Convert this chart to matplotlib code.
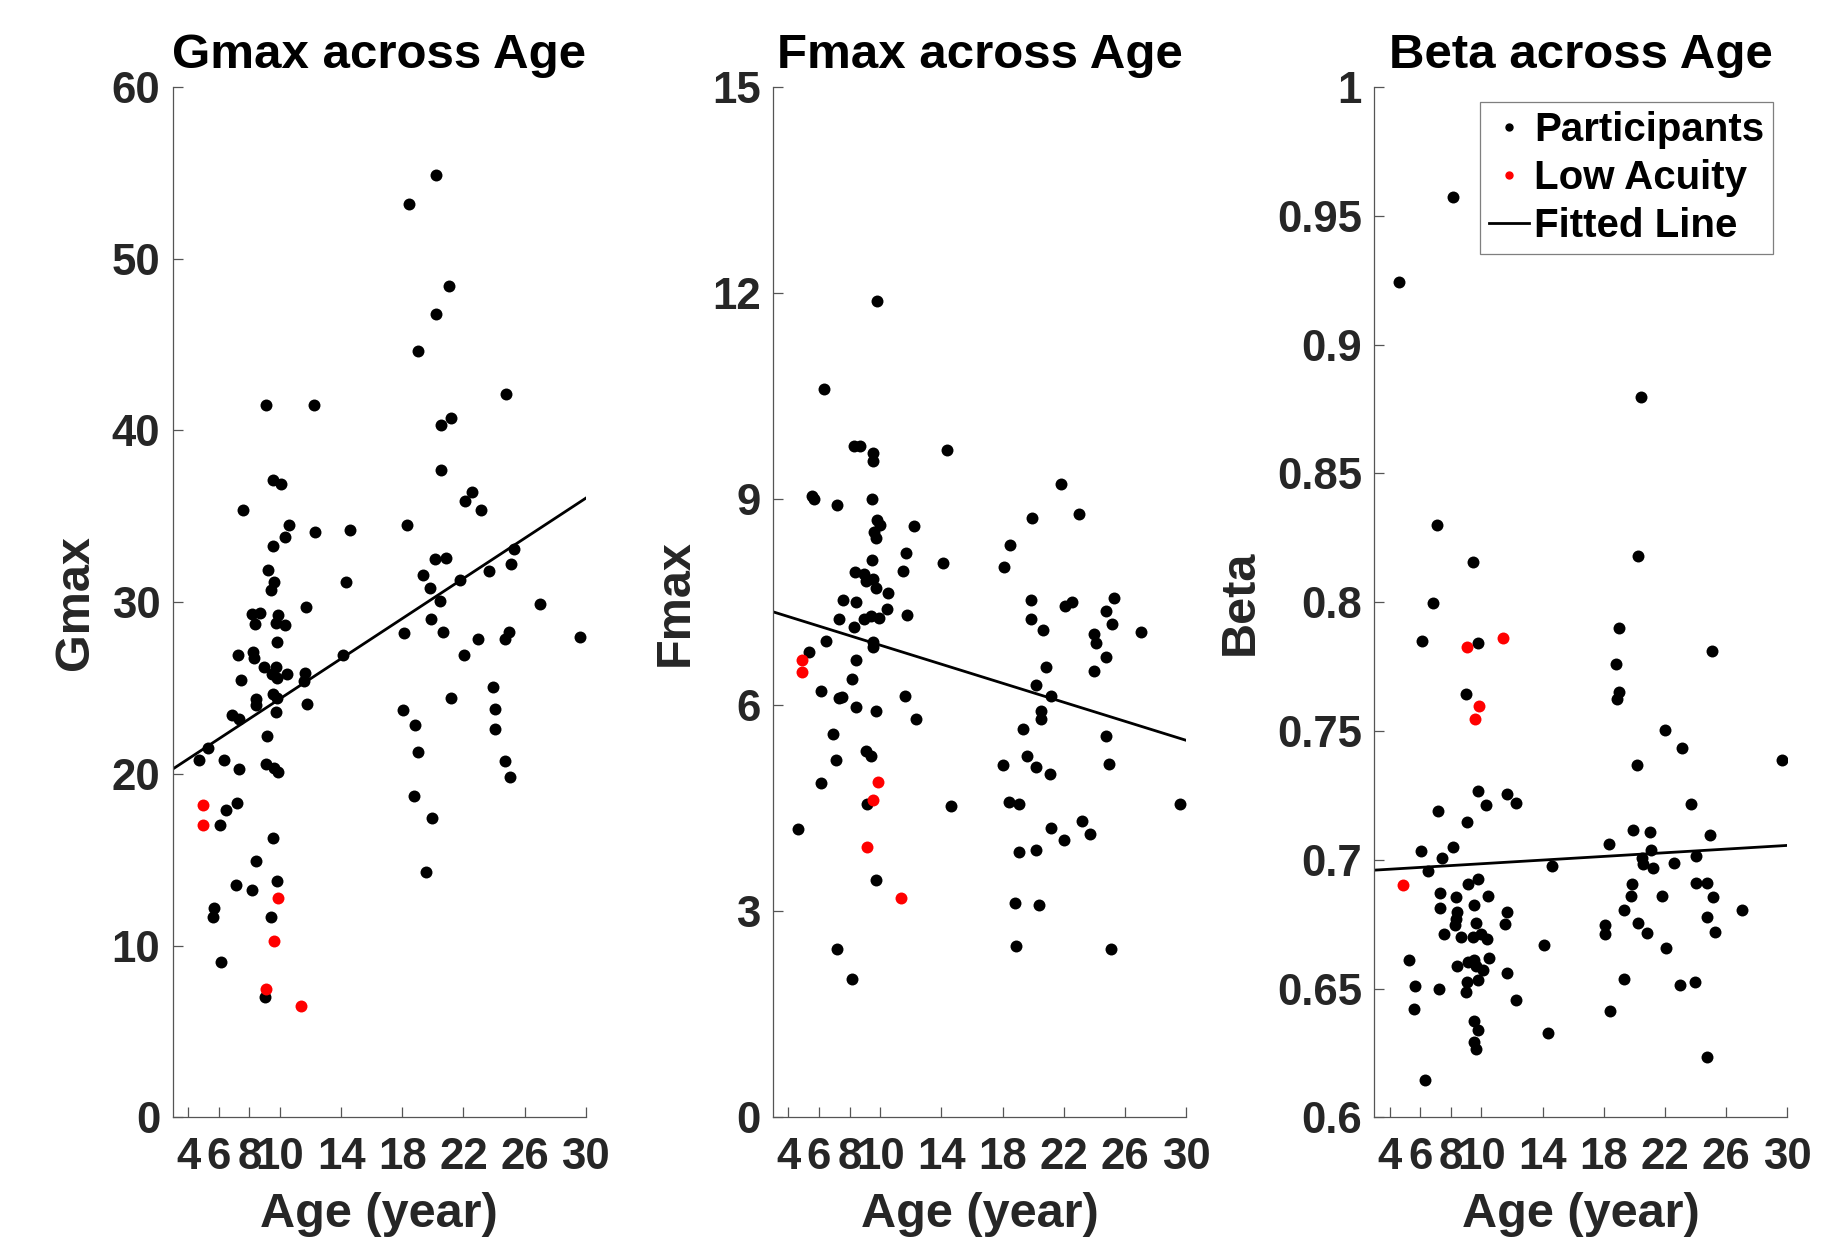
import matplotlib
matplotlib.use("Agg")
import matplotlib.pyplot as plt
from matplotlib.lines import Line2D
from matplotlib.ticker import FormatStrFormatter

plt.rcParams['font.family'] = ['Liberation Sans', 'DejaVu Sans']
plt.rcParams['font.weight'] = 'bold'

# ---- data ----
age_ticks = [4, 6, 8, 10, 14, 18, 22, 26, 30]

gmax_x = [20.2, 18.47, 21.07, 20.2, 19.04, 24.76, 9.1, 12.25, 21.18, 20.53, 20.56, 9.52, 10.04,
          22.57, 22.1, 7.59, 23.16, 18.34, 10.58, 12.28, 14.6, 10.35, 9.52, 25.28, 20.15, 20.84,
          25.1, 9.21, 19.35, 23.68, 21.8, 9.6, 14.3, 9.42, 19.8, 20.46, 27.03, 11.69,
          8.2, 8.67, 8.38, 9.9, 9.75, 10.32, 19.86, 18.08, 20.64, 29.6, 22.96, 24.7, 25.0, 9.78,
          7.25, 8.23, 8.31, 14.14, 22.06, 8.93, 9.73, 9.5, 9.8, 10.47, 11.66, 11.56, 7.46, 23.96,
          9.57, 9.78, 8.46, 8.44, 21.2, 11.74, 24.07, 6.89, 7.33, 9.75, 18.06, 18.83, 9.18, 24.07,
          5.32, 19.04, 4.7, 6.35, 9.08, 9.6, 9.88, 24.74, 7.3, 25.07, 7.17, 6.48, 6.09, 18.78,
          19.94, 9.57, 19.55, 8.44, 9.78, 7.15, 8.15, 5.7, 5.6, 9.44, 6.17, 9.0]
gmax_y = [54.9, 53.2, 48.4, 46.8, 44.65, 42.1, 41.5, 41.5, 40.7, 40.3, 37.7, 37.1, 36.9,
          36.4, 35.9, 35.35, 35.35, 34.5, 34.5, 34.1, 34.2, 33.8, 33.3, 33.1, 32.5, 32.6,
          32.2, 31.9, 31.6, 31.8, 31.3, 31.2, 31.2, 30.7, 30.8, 30.1, 29.9, 29.7,
          29.3, 29.4, 28.76, 29.28, 28.8, 28.7, 29.0, 28.2, 28.26, 27.97, 27.85, 27.85, 28.26, 27.7,
          26.9, 27.1, 26.75, 26.9, 26.9, 26.23, 26.25, 25.8, 25.6, 25.8, 25.87, 25.44, 25.5, 25.06,
          24.65, 24.44, 24.35, 24.0, 24.4, 24.1, 23.8, 23.46, 23.2, 23.63, 23.7, 22.84, 22.2, 22.6,
          21.5, 21.3, 20.8, 20.8, 20.6, 20.33, 20.1, 20.76, 20.3, 19.8, 18.3, 17.9, 17.0, 18.73,
          17.45, 16.28, 14.3, 14.96, 13.75, 13.56, 13.25, 12.2, 11.65, 11.67, 9.07, 7.0]
gmax_low_x = [4.95, 4.95, 9.88, 9.6, 9.1, 11.4]
gmax_low_y = [18.2, 17.04, 12.8, 10.26, 7.5, 6.5]
gmax_fit_x = [3, 30]
gmax_fit_y = [20.29, 36.06]

fmax_x = [9.77, 6.3, 8.27, 8.7, 9.54, 9.54, 14.34, 5.57, 5.67, 7.2, 9.46, 21.83, 9.82, 10.0, 9.6,
          9.7, 12.24, 19.91, 22.98, 18.46, 11.69, 14.1, 18.09, 9.46, 11.52, 8.35, 8.95, 9.1, 9.53,
          9.75, 10.52, 7.57, 8.42, 19.86, 22.08, 22.56, 25.3, 24.75,
          10.42, 7.3, 8.27, 8.95, 9.37, 9.9, 11.72, 19.83, 25.18, 27.05, 20.63, 6.45, 5.32, 9.5,
          9.54, 24.0, 24.08, 8.4, 24.73, 20.83, 23.98, 8.15, 6.1, 20.16, 7.3, 7.5, 11.64, 21.18,
          8.4, 9.72, 20.51, 20.51, 12.32, 19.33, 24.73, 6.9, 7.12, 9.04, 9.39, 18.04, 19.61, 20.16,
          21.11, 24.98, 6.1, 9.12, 14.64, 18.39, 19.06, 29.62, 4.65, 21.18, 23.16, 23.73, 22.0,
          19.06, 20.21, 9.74, 18.79, 20.41, 7.15, 18.89, 25.08, 8.17]
fmax_y = [11.88, 10.6, 9.77, 9.78, 9.67, 9.55, 9.72, 9.04, 9.0, 8.91, 9.0, 9.22, 8.7, 8.63, 8.52,
          8.44, 8.61, 8.72, 8.78, 8.34, 8.22, 8.07, 8.02, 8.12, 7.95, 7.94, 7.91, 7.81, 7.84,
          7.71, 7.64, 7.53, 7.51, 7.53, 7.44, 7.5, 7.56, 7.37,
          7.4, 7.26, 7.14, 7.26, 7.3, 7.27, 7.31, 7.25, 7.18, 7.06, 7.1, 6.93, 6.78, 6.92,
          6.85, 7.04, 6.9, 6.66, 6.7, 6.55, 6.5, 6.38, 6.21, 6.29, 6.1, 6.12, 6.14, 6.13,
          5.97, 5.92, 5.91, 5.8, 5.8, 5.65, 5.56, 5.58, 5.2, 5.33, 5.26, 5.13, 5.26, 5.1,
          5.0, 5.14, 4.87, 4.56, 4.53, 4.59, 4.56, 4.57, 4.2, 4.22, 4.31, 4.13, 4.04,
          3.86, 3.9, 3.46, 3.12, 3.09, 2.45, 2.5, 2.45, 2.01]
fmax_low_x = [4.9, 4.9, 9.87, 9.52, 9.12, 11.34]
fmax_low_y = [6.66, 6.49, 4.88, 4.62, 3.93, 3.19]
fmax_fit_x = [3, 30]
fmax_fit_y = [7.36, 5.49]

beta_x = [8.16, 4.64, 20.42, 7.12, 9.44, 20.22, 6.84, 6.09, 9.75, 19.02, 25.05, 18.79, 19.02, 18.84,
          8.96, 22.03, 23.13, 20.14, 29.62, 9.75, 11.66, 10.28, 12.28, 23.69, 7.14, 9.06, 19.89,
          21.04, 24.97, 6.04, 8.14, 7.4, 18.36, 21.11, 20.47, 20.53, 24.05, 22.57, 21.22, 14.63,
          6.48, 9.11, 9.75, 19.86, 24.05, 24.72, 7.32, 8.34, 10.44, 19.81, 21.8, 25.12, 9.54, 7.3,
          8.39, 11.69, 19.33, 27.04, 8.32, 8.27, 9.62, 11.56, 18.07, 18.07, 20.22, 24.72, 7.55,
          8.65, 9.44, 9.95, 10.36, 20.83, 25.28, 14.11, 22.08, 5.28, 10.51, 9.54, 9.67, 9.13,
          10.08, 9.77, 8.42, 11.69, 9.03, 8.96, 19.29, 22.98, 23.97, 5.66, 7.22, 12.25, 5.56,
          18.43, 9.54, 9.8, 14.32, 9.49, 9.62, 24.74, 6.3]
beta_y = [0.9573, 0.9242, 0.8795, 0.83, 0.8158, 0.8181, 0.7997, 0.7849, 0.7841, 0.7901, 0.781,
          0.7761, 0.7653, 0.7626, 0.7643, 0.7505, 0.7435, 0.7368, 0.7387, 0.7266, 0.7255, 0.7213,
          0.7221, 0.7217, 0.719, 0.7146, 0.7115, 0.7108, 0.7097, 0.7035, 0.7051, 0.7008, 0.7062,
          0.7037, 0.7006, 0.6984, 0.7014, 0.6986, 0.6967, 0.6976, 0.6955, 0.6906, 0.6927, 0.6908,
          0.6911, 0.6912, 0.6873, 0.6857, 0.686, 0.686, 0.6861, 0.6855, 0.6826, 0.6814, 0.6799,
          0.6798, 0.6807, 0.6807, 0.6771, 0.6747, 0.6756, 0.675, 0.6747, 0.6712, 0.6756, 0.6777,
          0.6712, 0.6699, 0.6702, 0.6712, 0.6693, 0.6715, 0.672, 0.667, 0.6659, 0.661, 0.6619,
          0.661, 0.6588, 0.6604, 0.6572, 0.6532, 0.6588, 0.656, 0.6527, 0.6487, 0.6537, 0.6516,
          0.6524, 0.651, 0.65, 0.6457, 0.6422, 0.6414, 0.6376, 0.6341, 0.6326, 0.6293, 0.6264,
          0.6234, 0.6145]
beta_low_x = [4.89, 9.06, 11.38, 9.85, 9.57]
beta_low_y = [0.6904, 0.7825, 0.7863, 0.7599, 0.7546]
beta_fit_x = [3, 30]
beta_fit_y = [0.696, 0.7056]

TICK_COLOR = '#262626'


def draw_panel(ax, x, y, low_x, low_y, fit_x, fit_y, name, ylim, yticks, fmt):
    ax.plot(x, y, 'o', color='black', markersize=8.6, markeredgewidth=0, linestyle='none')
    ax.plot(low_x, low_y, 'o', color='red', markersize=8.6, markeredgewidth=0, linestyle='none')
    ax.plot(fit_x, fit_y, '-', color='black', linewidth=2.0)

    ax.set_xlim(3, 30)
    ax.set_ylim(*ylim)
    ax.set_xticks(age_ticks)
    ax.set_yticks(yticks)
    ax.yaxis.set_major_formatter(FormatStrFormatter(fmt))

    for side in ['top', 'right']:
        ax.spines[side].set_visible(False)
    for side in ['left', 'bottom']:
        ax.spines[side].set_color('#555555')
        ax.spines[side].set_linewidth(0.9)

    ax.tick_params(axis='both', direction='in', length=7, width=0.9, color='#555555',
                   labelsize=31.5, labelcolor=TICK_COLOR)
    ax.tick_params(axis='y', pad=9)
    ax.tick_params(axis='x', pad=14)
    for lab in ax.get_xticklabels() + ax.get_yticklabels():
        lab.set_fontweight('bold')

    ax.set_title(f'{name} across Age', fontsize=35.5, fontweight='bold', color='black', pad=14)
    ax.set_xlabel('Age (year)', fontsize=35, fontweight='bold', color=TICK_COLOR, labelpad=10)
    ax.set_ylabel(name, fontsize=35, fontweight='bold', color=TICK_COLOR, labelpad=10)


fig = plt.figure(figsize=(18.33, 12.43), dpi=100)
ax1 = fig.add_axes([0.0943, 0.101, 0.2253, 0.829])
ax2 = fig.add_axes([0.4218, 0.101, 0.2253, 0.829])
ax3 = fig.add_axes([0.7498, 0.101, 0.2253, 0.829])

draw_panel(ax1, gmax_x, gmax_y, gmax_low_x, gmax_low_y, gmax_fit_x, gmax_fit_y,
           'Gmax', (0, 60), [0, 10, 20, 30, 40, 50, 60], '%g')
draw_panel(ax2, fmax_x, fmax_y, fmax_low_x, fmax_low_y, fmax_fit_x, fmax_fit_y,
           'Fmax', (0, 15), [0, 3, 6, 9, 12, 15], '%g')
draw_panel(ax3, beta_x, beta_y, beta_low_x, beta_low_y, beta_fit_x, beta_fit_y,
           'Beta', (0.6, 1.0), [0.6, 0.65, 0.7, 0.75, 0.8, 0.85, 0.9, 0.95, 1.0], '%g')

handles = [
    Line2D([], [], marker='o', color='black', markersize=5, linestyle='none'),
    Line2D([], [], marker='o', color='red', markersize=5, linestyle='none'),
    Line2D([], [], color='black', linewidth=2.0),
]
leg = ax3.legend(handles, ['Participants', 'Low Acuity', 'Fitted Line'],
                 loc='upper right', bbox_to_anchor=(0.9673, 0.918),
                 bbox_transform=fig.transFigure, borderaxespad=0,
                 frameon=True, fancybox=False, framealpha=1,
                 edgecolor='#7f7f7f', handlelength=1.0, handletextpad=0.12,
                 labelspacing=0.25, borderpad=0.22, prop={'weight': 'bold', 'size': 29})
leg.get_frame().set_linewidth(0.9)

fig.savefig('out.png', dpi=100)
